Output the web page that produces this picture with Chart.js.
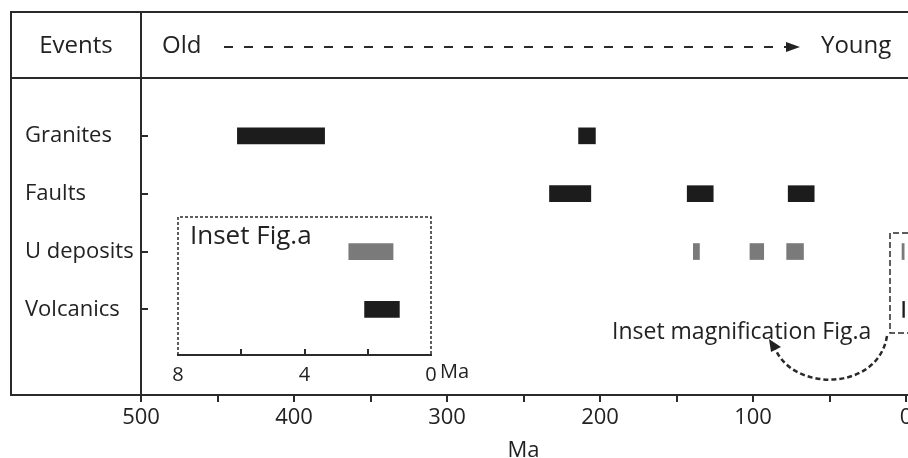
<!DOCTYPE html>
<html>
<head>
<meta charset="utf-8">
<script src="https://cdn.jsdelivr.net/npm/chart.js@4.4.1/dist/chart.umd.min.js"></script>
<style>
  html, body { margin: 0; padding: 0; background: #fff; }
  #wrap { position: relative; width: 908px; height: 458px; }
  #mainChart { position: absolute; left: 0; top: 0; }
  #insetChart { position: absolute; left: 160px; top: 200px; }
</style>
</head>
<body>
<div id="wrap">
  <canvas id="mainChart" width="908" height="458"></canvas>
  <canvas id="insetChart" width="320" height="200"></canvas>
</div>
<script>
// event rows and their age ranges in Ma (older, younger)
const events = ['Granites', 'Faults', 'U deposits', 'Volcanics'];
const graniteAges = [[437, 380], [214, 203]];
const faultAges = [[233, 206], [143, 126], [77, 60]];
const uDepositAges = [[139, 135], [102, 93], [78, 67], [2.6, 1.2]];
const volcanicAges = [[2.1, 1.0]];
const mainTickLabels = [500, 400, 300, 200, 100, 0];
const insetTickLabels = [8, 4, 0];

const eventColors = ['#1c1c1c', '#1c1c1c', '#7a7a7a', '#1c1c1c'];
const allAges = [graniteAges, faultAges, uDepositAges, volcanicAges];
const FONT = 'Open Sans';
const INK = '#2a2a2a';

function makeDatasets(maxAge) {
    return allAges.map((ages, i) => ({
        label: events[i],
        data: ages.filter(a => a[0] <= maxAge).map(a => ({ x: a, y: i + 1 })),
        backgroundColor: eventColors[i],
        borderWidth: 0,
        barThickness: 16,
        grouped: false
    }));
}

function line(ctx, x1, y1, x2, y2) {
    ctx.beginPath();
    ctx.moveTo(x1, y1);
    ctx.lineTo(x2, y2);
    ctx.stroke();
}

// frame, header row and annotations of the main chart
const mainDecor = {
    id: 'mainDecor',
    afterDraw(chart) {
        const { ctx, chartArea: ca, scales: { y } } = chart;
        ctx.save();
        ctx.strokeStyle = INK;
        ctx.fillStyle = '#222';
        ctx.lineWidth = 2;
        line(ctx, 10, 12, 908, 12);
        line(ctx, 10, 78, 908, 78);
        line(ctx, 11, 12, 11, ca.bottom);
        line(ctx, ca.left, 12, ca.left, ca.bottom);
        line(ctx, 10, ca.bottom, 908, ca.bottom);

        // inward category ticks
        events.forEach((e, i) => {
            const py = Math.round(y.getPixelForValue(i + 1));
            line(ctx, ca.left, py, ca.left + 7, py);
        });

        // header
        ctx.textBaseline = 'middle';
        ctx.font = `24px "${FONT}"`;
        ctx.textAlign = 'center';
        ctx.fillText('Events', 76, 46);
        ctx.textAlign = 'left';
        ctx.fillText('Old', 162, 46);
        ctx.fillText('Young', 821, 46);

        ctx.lineWidth = 2;
        ctx.setLineDash([9, 11]);
        line(ctx, 224, 47, 790, 47);
        ctx.setLineDash([]);
        ctx.beginPath();
        ctx.moveTo(786, 42);
        ctx.lineTo(800, 47);
        ctx.lineTo(786, 52);
        ctx.closePath();
        ctx.fill();

        // magnified region marker
        ctx.lineWidth = 1.5;
        ctx.setLineDash([6, 3]);
        ctx.beginPath();
        ctx.moveTo(908, 233);
        ctx.lineTo(890, 233);
        ctx.lineTo(890, 333);
        ctx.lineTo(908, 333);
        ctx.stroke();

        ctx.lineWidth = 2.5;
        ctx.setLineDash([5, 3]);
        ctx.beginPath();
        ctx.moveTo(887, 336);
        ctx.bezierCurveTo(878, 392, 792, 392, 775, 348);
        ctx.stroke();
        ctx.setLineDash([]);
        ctx.beginPath();
        ctx.moveTo(769, 339);
        ctx.lineTo(781, 347);
        ctx.lineTo(771, 352);
        ctx.closePath();
        ctx.fill();

        ctx.font = `23px "${FONT}"`;
        ctx.fillText('Inset magnification Fig.a', 612, 332);
        ctx.restore();
    }
};

new Chart(document.getElementById('mainChart').getContext('2d'), {
    type: 'bar',
    data: { datasets: makeDatasets(500) },
    options: {
        responsive: false,
        animation: false,
        indexAxis: 'y',
        layout: { padding: { left: 25, top: 78, right: 2, bottom: 0 } },
        plugins: { legend: { display: false }, tooltip: { enabled: false } },
        scales: {
            x: {
                type: 'linear',
                min: 0,
                max: 500,
                reverse: true,
                afterFit(scale) {
                    scale.height = 63;
                    scale.paddingLeft = 0;
                    scale.paddingRight = 0;
                },
                ticks: {
                    stepSize: 50,
                    autoSkip: false,
                    maxRotation: 0,
                    padding: 3,
                    color: '#222',
                    font: { family: FONT, size: 22 },
                    callback: v => mainTickLabels.includes(v) ? String(v) : ''
                },
                grid: { drawOnChartArea: false, tickLength: 7, color: INK, lineWidth: 2 },
                border: { display: false },
                title: {
                    display: true,
                    text: 'Ma',
                    color: '#222',
                    font: { family: FONT, size: 22, lineHeight: 0.65 },
                    padding: 0
                }
            },
            y: {
                type: 'linear',
                min: 0,
                max: 5.48,
                offset: false,
                reverse: true,
                afterBuildTicks(scale) {
                    scale.ticks = events.map((e, i) => ({ value: i + 1 }));
                },
                afterFit(scale) {
                    scale.width = 116;
                    scale.paddingTop = 0;
                    scale.paddingBottom = 0;
                },
                ticks: {
                    crossAlign: 'far',
                    color: '#222',
                    font: { family: FONT, size: 22 },
                    callback: v => events[v - 1]
                },
                grid: { display: false },
                border: { display: false }
            }
        }
    },
    plugins: [mainDecor]
});

// dashed box, inward ticks and title of the inset
const insetDecor = {
    id: 'insetDecor',
    afterDraw(chart) {
        const { ctx, chartArea: ca, scales: { x } } = chart;
        ctx.save();
        ctx.strokeStyle = INK;
        ctx.fillStyle = '#222';
        ctx.lineWidth = 1.5;
        ctx.setLineDash([3, 2]);
        ctx.beginPath();
        ctx.moveTo(ca.left, ca.bottom);
        ctx.lineTo(ca.left, ca.top);
        ctx.lineTo(ca.right, ca.top);
        ctx.lineTo(ca.right, ca.bottom);
        ctx.stroke();
        ctx.setLineDash([]);
        ctx.lineWidth = 2;
        [6, 4, 2].forEach(v => {
            const px = Math.round(x.getPixelForValue(v));
            line(ctx, px, ca.bottom, px, ca.bottom - 6);
        });
        ctx.textBaseline = 'middle';
        ctx.textAlign = 'left';
        ctx.font = `26px "${FONT}"`;
        ctx.fillText('Inset Fig.a', ca.left + 12, ca.top + 20);
        ctx.font = `20px "${FONT}"`;
        ctx.fillText('Ma', x.getPixelForValue(0) + 9, ca.bottom + 17);
        ctx.restore();
    }
};

new Chart(document.getElementById('insetChart').getContext('2d'), {
    type: 'bar',
    data: { datasets: makeDatasets(8) },
    options: {
        responsive: false,
        animation: false,
        indexAxis: 'y',
        layout: { padding: { left: 18, top: 17, right: 49, bottom: 0 } },
        plugins: { legend: { display: false }, tooltip: { enabled: false } },
        scales: {
            x: {
                type: 'linear',
                min: 0,
                max: 8,
                reverse: true,
                afterFit(scale) {
                    scale.height = 45;
                    scale.paddingLeft = 0;
                    scale.paddingRight = 0;
                },
                ticks: {
                    stepSize: 2,
                    autoSkip: false,
                    maxRotation: 0,
                    padding: 0,
                    color: '#222',
                    font: { family: FONT, size: 20 },
                    callback: v => insetTickLabels.includes(v) ? String(v) : ''
                },
                grid: { display: false },
                border: { display: true, color: INK, width: 2 }
            },
            y: {
                display: false,
                type: 'linear',
                min: 2.401,
                max: 4.789,
                offset: false,
                reverse: true
            }
        }
    },
    plugins: [insetDecor]
});
</script>
</body>
</html>
